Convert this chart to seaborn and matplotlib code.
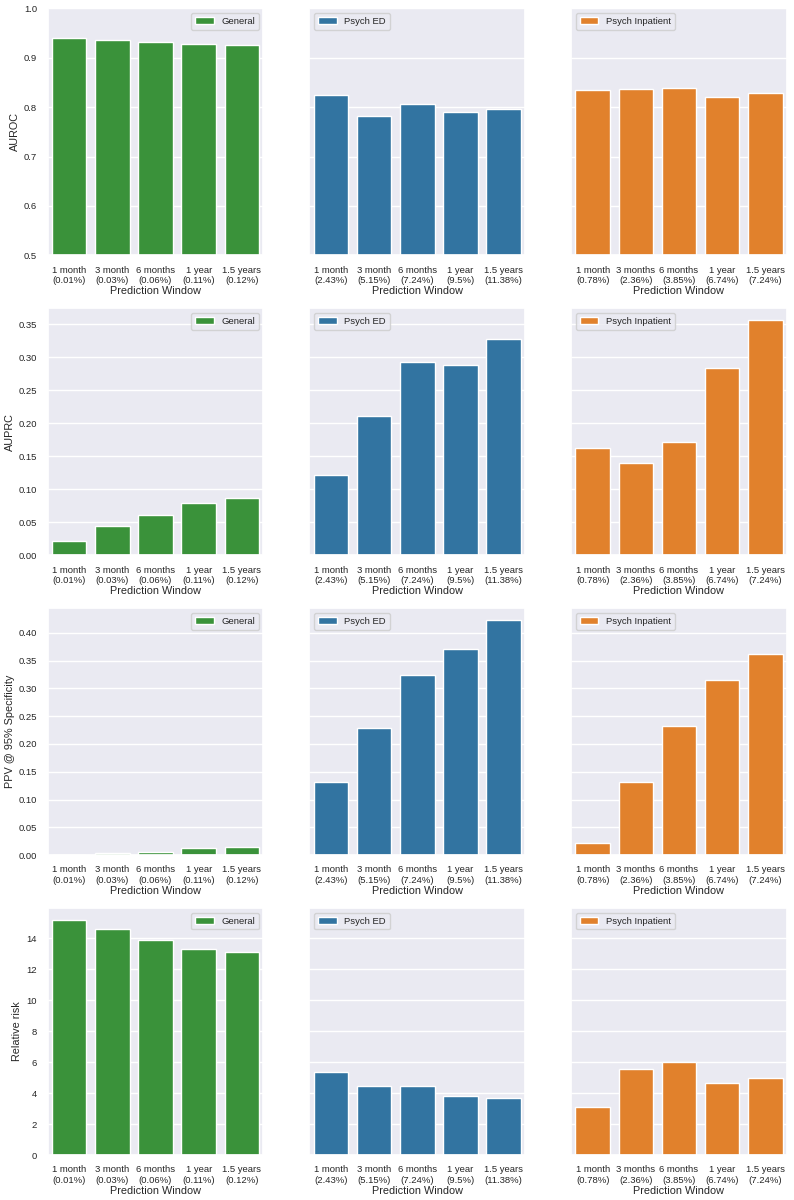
import matplotlib
matplotlib.use("Agg")
import matplotlib.pyplot as plt
import seaborn as sns

sns.set_theme(style="darkgrid")
plt.rcParams['font.family'] = ['Liberation Sans', 'DejaVu Sans']

# prediction windows (prevalence in brackets) per cohort
windows_general = ["1 month\n(0.01%)", "3 month\n(0.03%)", "6 months\n(0.06%)",
                   "1 year\n(0.11%)", "1.5 years\n(0.12%)"]
windows_ed = ["1 month\n(2.43%)", "3 month\n(5.15%)", "6 months\n(7.24%)",
              "1 year\n(9.5%)", "1.5 years\n(11.38%)"]
windows_inpatient = ["1 month\n(0.78%)", "3 months\n(2.36%)", "6 months\n(3.85%)",
                     "1 year\n(6.74%)", "1.5 years\n(7.24%)"]

auroc_general = [0.940, 0.935, 0.932, 0.928, 0.925]
auroc_ed = [0.825, 0.783, 0.807, 0.791, 0.797]
auroc_inpatient = [0.834, 0.837, 0.839, 0.820, 0.828]

auprc_general = [0.022, 0.044, 0.061, 0.079, 0.087]
auprc_ed = [0.122, 0.210, 0.292, 0.288, 0.328]
auprc_inpatient = [0.163, 0.140, 0.172, 0.284, 0.356]

ppv_general = [0.0005, 0.0036, 0.006, 0.012, 0.014]
ppv_ed = [0.131, 0.229, 0.324, 0.370, 0.423]
ppv_inpatient = [0.022, 0.131, 0.232, 0.315, 0.361]

rr_general = [15.18, 14.6, 13.89, 13.3, 13.13]
rr_ed = [5.37, 4.43, 4.43, 3.82, 3.66]
rr_inpatient = [3.13, 5.57, 6.0, 4.64, 4.97]

cohorts = [("General", windows_general, "#2ca02c", "upper right"),
           ("Psych ED", windows_ed, "#1f77b4", "upper left"),
           ("Psych Inpatient", windows_inpatient, "#ff7f0e", "upper left")]
metrics = [("AUROC", [auroc_general, auroc_ed, auroc_inpatient]),
           ("AUPRC", [auprc_general, auprc_ed, auprc_inpatient]),
           ("PPV @ 95% Specificity", [ppv_general, ppv_ed, ppv_inpatient]),
           ("Relative risk", [rr_general, rr_ed, rr_inpatient])]

fig, axes = plt.subplots(4, 3, figsize=(7.94, 12), dpi=100, sharey='row')

for i, (metric, series) in enumerate(metrics):
    for j, (name, windows, color, loc) in enumerate(cohorts):
        ax = axes[i, j]
        sns.barplot(x=windows, y=series[j], color=color, label=name, ax=ax)
        ax.set_ylabel(metric, fontsize=7.8, labelpad=3)
        ax.set_xlabel("Prediction Window", fontsize=7.8, labelpad=1)
        ax.tick_params(axis='both', labelsize=6.8, pad=1.5)
        ax.legend(loc=loc, fontsize=6.8)
    if metric == "AUROC":
        axes[i, 0].set_ylim(0.5, 1.0)

plt.subplots_adjust(left=0.06, right=0.991, top=0.993, bottom=0.0375,
                    wspace=0.213, hspace=0.215)
plt.savefig("out.png", dpi=100)
